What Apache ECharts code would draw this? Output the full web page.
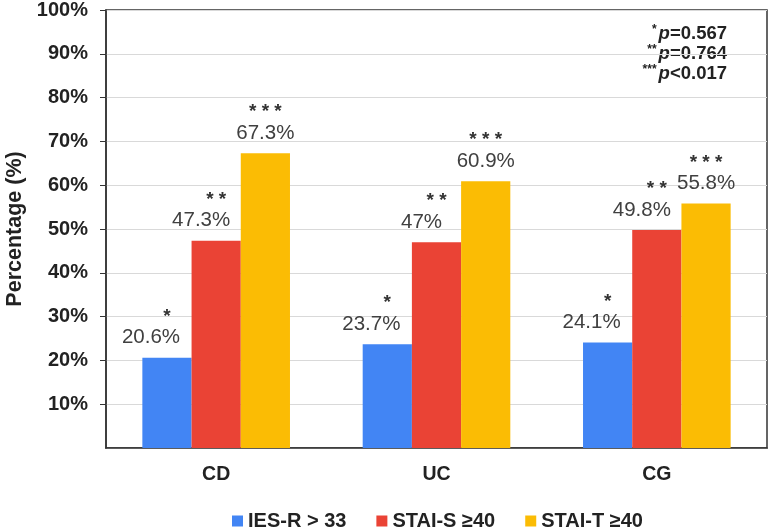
<!DOCTYPE html>
<html lang="en">
<head>
    <meta charset="UTF-8">
    <title>Percentage by group</title>
    <script src="https://cdn.jsdelivr.net/npm/echarts@6/dist/echarts.min.js"></script>
</head>
<body style="margin:0;">
<div id="main" style="width: 772px;height: 527px;"></div>

<script type="text/javascript">
    // data
    var groups = ['CD', 'UC', 'CG'];
    var seriesNames = ['IES-R > 33', 'STAI-S \u226540', 'STAI-T \u226540'];
    var iesR = [20.6, 23.7, 24.1];
    var staiS = [47.3, 47, 49.8];
    var staiT = [67.3, 60.9, 55.8];
    var valueText = [['20.6%', '23.7%', '24.1%'], ['47.3%', '47%', '49.8%'], ['67.3%', '60.9%', '55.8%']];
    var stars = ['*', '* *', '* * *'];
    var pNotes = [['*', '=0.567'], ['**', '=0.764'], ['***', '<0.017']];

    var colors = ['#4285F4', '#EA4335', '#FBBC04'];
    var font = 'Liberation Sans, Arial, sans-serif';
    var shiftLeft = [32, 30, 0]; // value text sits a bit left of the bar for blue and red

    var myChart = echarts.init(document.getElementById('main'));

    function makeSeries(idx, values) {
        return {
            name: seriesNames[idx],
            type: 'bar',
            data: values,
            barGap: '0%',
            barCategoryGap: '33%',
            itemStyle: {color: colors[idx]},
            label: {
                show: true,
                position: 'top',
                distance: 10,
                fontSize: 20.5,
                fontFamily: font,
                color: '#404040',
                formatter: function (p) {
                    return '{star|' + stars[idx] + '}\n{val|' + valueText[idx][p.dataIndex] + '}';
                },
                rich: {
                    star: {fontSize: 19, fontWeight: 'bold', color: '#333', fontFamily: font, lineHeight: 22},
                    val: {fontSize: 20.5, color: '#404040', fontFamily: font, lineHeight: 20,
                        padding: [0, shiftLeft[idx], 0, 0]}
                }
            }
        };
    }

    var option = {
        animation: false,
        textStyle: {fontFamily: font},
        grid: {
            left: 106, top: 10, right: 5, bottom: 79,
            outerBoundsMode: 'none',
            show: true, borderColor: '#333', borderWidth: 1.5
        },
        legend: {
            top: 506,
            left: 227,
            icon: 'rect',
            itemWidth: 11,
            itemHeight: 11,
            itemGap: 30,
            textStyle: {fontSize: 20, fontWeight: 'bold', color: '#222', fontFamily: font},
            data: seriesNames
        },
        xAxis: {
            type: 'category',
            data: groups,
            axisTick: {show: false},
            axisLine: {lineStyle: {color: '#333', width: 1.5}},
            axisLabel: {fontSize: 19.5, fontWeight: 'bold', color: '#222', margin: 17, fontFamily: font}
        },
        yAxis: {
            type: 'value',
            min: 0,
            max: 100,
            interval: 10,
            name: 'Percentage (%)',
            nameLocation: 'middle',
            nameGap: 80,
            nameTextStyle: {fontSize: 21.5, fontWeight: 'bold', color: '#222', fontFamily: font},
            axisLine: {show: true, lineStyle: {color: '#333', width: 1.5}},
            axisTick: {show: true, length: 6, lineStyle: {color: '#333'}},
            axisLabel: {
                showMinLabel: false,
                fontSize: 20, fontWeight: 'bold', color: '#222', margin: 18, fontFamily: font,
                formatter: '{value}%'
            },
            splitLine: {lineStyle: {color: '#d9d9d9', width: 1.2}}
        },
        graphic: pNotes.map(function (n, i) {
            return {
                type: 'text',
                right: 45,
                top: 24 + i * 20,
                style: {
                    text: '{s|' + n[0] + '}{p|p}{t|' + n[1] + '}',
                    align: 'right',
                    rich: {
                        s: {fontSize: 12, fontWeight: 'bold', fill: '#222', fontFamily: font,
                            verticalAlign: 'top', padding: [0, 2, 0, 0]},
                        p: {fontSize: 18.5, fontWeight: 'bold', fontStyle: 'italic', fill: '#222', fontFamily: font},
                        t: {fontSize: 18.5, fontWeight: 'bold', fill: '#222', fontFamily: font}
                    }
                }
            };
        }),
        series: [
            makeSeries(0, iesR),
            makeSeries(1, staiS),
            makeSeries(2, staiT)
        ]
    };

    myChart.setOption(option);
</script>
</body>
</html>
